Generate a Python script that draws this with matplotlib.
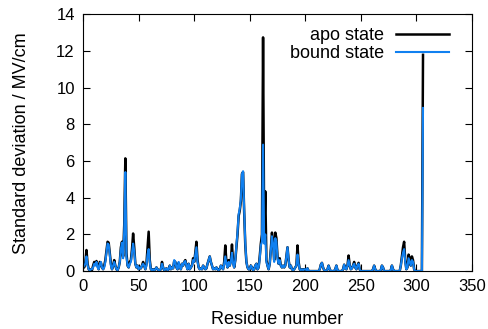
import numpy as np
import matplotlib
matplotlib.use("Agg")
import matplotlib.pyplot as plt

plt.rcParams['font.family'] = ['Liberation Sans', 'DejaVu Sans']

# standard deviation per residue (MV/cm), residues 0..306
apo_state = [
    0.3, 0.2, 0.5, 1.15, 0.4, 0.1, 0.05, 0.1, 0.05, 0.3,
    0.5, 0.4, 0.55, 0.3, 0.1, 0.5, 0.45, 0.2, 0.1, 0.3,
    0.6, 1.1, 1.6, 1.55, 1.0, 0.4, 0.1, 0.3, 0.6, 0.3,
    0.1, 0.05, 0.2, 0.5, 1.3, 1.6, 0.8, 2.5, 6.15, 1.0,
    0.3, 0.2, 0.5, 0.6, 1.2, 2.05, 1.3, 0.4, 0.2, 0.3,
    0.1, 0.2, 0.15, 0.3, 0.5, 0.3, 0.1, 0.4, 1.3, 2.15,
    0.6, 0.1, 0.05, 0.1, 0.05, 0.1, 0.2, 0.1, 0.05, 0.05,
    0.1, 0.5, 0.2, 0.05, 0.1, 0.15, 0.05, 0.1, 0.3, 0.1,
    0.2, 0.15, 0.55, 0.5, 0.2, 0.1, 0.45, 0.2, 0.1, 0.4,
    0.3, 0.5, 0.6, 0.3, 0.1, 0.4, 0.1, 0.2, 0.3, 0.7,
    0.5, 1.0, 1.6, 0.6, 0.2, 0.1, 0.15, 0.1, 0.3, 0.2,
    0.1, 0.15, 0.4, 0.6, 0.8, 0.5, 0.3, 0.1, 0.15, 0.1,
    0.2, 0.1, 0.05, 0.1, 0.3, 0.2, 0.1, 0.5, 1.4, 0.5,
    0.2, 0.6, 0.3, 0.6, 1.45, 0.5, 0.2, 0.6, 1.3, 2.0,
    3.0, 3.3, 3.8, 5.3, 5.4, 3.2, 1.4, 0.5, 0.2, 0.1,
    0.1, 0.3, 0.2, 0.05, 0.1, 0.3, 0.4, 0.1, 0.2, 0.8,
    1.5, 2.0, 12.75, 1.9, 4.35, 0.6, 0.3, 0.1, 0.4, 1.2,
    2.1, 1.6, 0.6, 2.1, 1.8, 0.8, 0.4, 0.7, 0.3, 0.2,
    0.3, 0.2, 0.3, 0.8, 1.3, 0.6, 0.2, 0.3, 0.1, 0.05,
    0.1, 0.2, 0.3, 1.4, 0.5, 0.1, 0.05, 0.1, 0.05, 0.1,
    0.1, 0.05, 0.15, 0.0, 0.0, 0.0, 0.0, 0.0, 0.0, 0.0,
    0.0, 0.0, 0.0, 0.1, 0.35, 0.45, 0.2, 0.05, 0.0, 0.0,
    0.1, 0.3, 0.1, 0.0, 0.0, 0.0, 0.0, 0.1, 0.3, 0.05,
    0.0, 0.0, 0.0, 0.0, 0.1, 0.35, 0.15, 0.1, 0.3, 0.85,
    0.3, 0.1, 0.15, 0.3, 0.5, 0.2, 0.1, 0.3, 0.45, 0.1,
    0.0, 0.0, 0.0, 0.0, 0.0, 0.0, 0.0, 0.0, 0.0, 0.0,
    0.0, 0.1, 0.3, 0.1, 0.0, 0.0, 0.0, 0.0, 0.05, 0.3,
    0.2, 0.0, 0.0, 0.0, 0.0, 0.0, 0.0, 0.05, 0.3, 0.1,
    0.0, 0.0, 0.0, 0.0, 0.0, 0.0, 0.3, 0.8, 1.3, 1.6,
    0.6, 0.1, 0.2, 0.9, 0.7, 0.3, 0.8, 0.6, 0.1, 0.0,
    0.0, 0.0, 0.0, 0.0, 0.0, 0.0, 11.8,
]

bound_state = [
    0.2, 0.3, 0.4, 0.8, 0.3, 0.1, 0.05, 0.1, 0.1, 0.2,
    0.4, 0.3, 0.5, 0.2, 0.1, 0.4, 0.5, 0.2, 0.1, 0.2,
    0.5, 1.0, 1.5, 1.45, 0.9, 0.3, 0.1, 0.3, 0.5, 0.3,
    0.1, 0.05, 0.2, 0.5, 1.2, 1.55, 0.7, 2.2, 5.4, 0.8,
    0.3, 0.2, 0.4, 0.5, 1.0, 1.5, 1.1, 0.4, 0.2, 0.3,
    0.1, 0.2, 0.15, 0.3, 0.4, 0.3, 0.1, 0.3, 0.9, 1.2,
    0.5, 0.1, 0.05, 0.1, 0.05, 0.1, 0.2, 0.1, 0.05, 0.05,
    0.1, 0.4, 0.2, 0.05, 0.1, 0.15, 0.05, 0.1, 0.3, 0.1,
    0.2, 0.15, 0.6, 0.5, 0.2, 0.1, 0.5, 0.2, 0.1, 0.4,
    0.3, 0.5, 0.55, 0.3, 0.1, 0.4, 0.1, 0.2, 0.3, 0.6,
    0.5, 0.9, 1.3, 0.5, 0.2, 0.1, 0.15, 0.1, 0.3, 0.2,
    0.1, 0.15, 0.4, 0.6, 0.8, 0.5, 0.3, 0.1, 0.15, 0.1,
    0.2, 0.1, 0.05, 0.1, 0.3, 0.2, 0.1, 0.4, 0.8, 0.4,
    0.2, 0.5, 0.3, 0.5, 1.0, 0.4, 0.2, 0.6, 1.4, 2.1,
    3.1, 3.4, 3.9, 5.3, 5.45, 3.3, 1.5, 0.5, 0.2, 0.1,
    0.1, 0.3, 0.2, 0.05, 0.1, 0.3, 0.4, 0.1, 0.2, 0.7,
    1.4, 1.6, 6.9, 1.5, 2.0, 0.5, 0.3, 0.1, 0.4, 1.1,
    1.9, 1.5, 0.5, 1.8, 1.6, 0.7, 0.4, 0.6, 0.3, 0.2,
    0.3, 0.2, 0.3, 0.8, 1.3, 0.6, 0.2, 0.3, 0.1, 0.05,
    0.1, 0.2, 0.3, 0.9, 0.4, 0.1, 0.05, 0.1, 0.05, 0.1,
    0.1, 0.05, 0.15, 0.0, 0.0, 0.0, 0.0, 0.0, 0.0, 0.0,
    0.0, 0.0, 0.0, 0.1, 0.35, 0.45, 0.2, 0.05, 0.0, 0.0,
    0.1, 0.3, 0.1, 0.0, 0.0, 0.0, 0.0, 0.1, 0.3, 0.05,
    0.0, 0.0, 0.0, 0.0, 0.1, 0.35, 0.15, 0.1, 0.3, 0.6,
    0.3, 0.1, 0.15, 0.3, 0.4, 0.2, 0.1, 0.3, 0.4, 0.1,
    0.0, 0.0, 0.0, 0.0, 0.0, 0.0, 0.0, 0.0, 0.0, 0.0,
    0.0, 0.1, 0.3, 0.1, 0.0, 0.0, 0.0, 0.0, 0.05, 0.3,
    0.2, 0.0, 0.0, 0.0, 0.0, 0.0, 0.0, 0.05, 0.3, 0.1,
    0.0, 0.0, 0.0, 0.0, 0.0, 0.0, 0.3, 0.7, 1.0, 1.2,
    0.5, 0.1, 0.2, 0.7, 0.5, 0.3, 0.6, 0.5, 0.1, 0.0,
    0.0, 0.0, 0.0, 0.0, 0.0, 0.0, 8.9,
]

residues = np.arange(len(apo_state))

fig = plt.figure(figsize=(4.89, 3.29), dpi=100)
ax = fig.add_axes([0.170, 0.176, 0.795, 0.780])

ax.plot(residues, apo_state, color="black", lw=1.8, label="apo state")
ax.plot(residues, bound_state, color="#1080f0", lw=1.5, label="bound state")

ax.set_xlim(0, 350)
ax.set_ylim(0, 14)
ax.set_xticks(range(0, 351, 50))
ax.set_yticks(range(0, 15, 2))
ax.tick_params(direction="in", top=True, right=True, labelsize=12, length=5, pad=6)
ax.set_xlabel("Residue number", fontsize=13, labelpad=12)
ax.set_ylabel("Standard deviation / MV/cm", fontsize=13, labelpad=19)

ax.legend(loc="upper right", bbox_to_anchor=(0.94, 0.95), frameon=False,
          markerfirst=False, fontsize=13, handlelength=2.9, handletextpad=0.65,
          labelspacing=0.05, borderaxespad=0, borderpad=0)

fig.savefig("out.png", dpi=100)
